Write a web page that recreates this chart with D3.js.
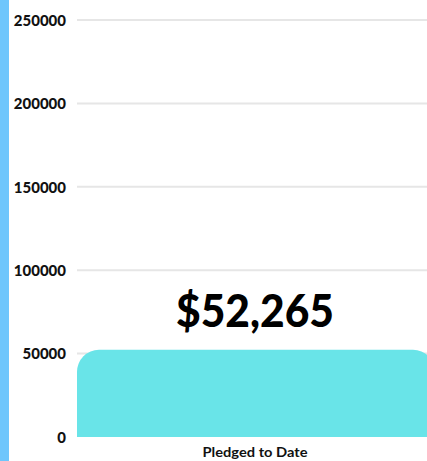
<!DOCTYPE html>
<html><head><meta charset="utf-8">
<script src="https://cdn.jsdelivr.net/npm/d3@7"></script>
<style>html,body{margin:0;padding:0;background:#fff;overflow:hidden}</style>
</head><body>
<svg id="c" width="427" height="461"></svg>
<script>
const categories = ["Pledged to Date"];
const values = [52265];
const valueLabels = ["$52,265"];
const tickValues = [0, 50000, 100000, 150000, 200000, 250000];

(function(){
const svg = d3.select("#c");
const W = 427, H = 461;
const mLeft = 77, mTop = 20, mBottom = 437;

svg.append("rect").attr("x",0).attr("y",0).attr("width",W).attr("height",H).attr("fill","#fff");
svg.append("rect").attr("x",0).attr("y",0).attr("width",9).attr("height",H).attr("fill","#6ec6fc");

const y = d3.scaleLinear().domain([0,250000]).range([mBottom, mTop]);
const x = d3.scaleBand().domain(categories).range([mLeft, 435]).padding(0);

svg.append("g").selectAll("line").data(tickValues.filter(d=>d>0)).join("line")
  .attr("x1", mLeft).attr("x2", W)
  .attr("y1", d=>y(d)).attr("y2", d=>y(d))
  .attr("stroke","#e6e6e6").attr("stroke-width",2);

const yAxis = d3.axisLeft(y).tickValues(tickValues).tickSize(0).tickPadding(0).tickFormat(d3.format("d"));
const ga = svg.append("g").attr("transform","translate(66,0)").call(yAxis);
ga.select(".domain").remove();
ga.selectAll("text").attr("font-family","Lato, sans-serif").attr("font-weight","900")
  .attr("font-size",15).attr("fill","#111").attr("dy","0.35em");

const r = 22;
svg.append("g").selectAll("path").data(values).join("path")
  .attr("d",(d,i)=>{
    const x0 = x(categories[i]), x1 = x0 + x.bandwidth(), y0 = y(d), yb = y(0);
    return `M${x0},${yb} L${x0},${y0+r} A${r},${r} 0 0 1 ${x0+r},${y0} L${x1-r},${y0} A${r},${r} 0 0 1 ${x1},${y0+r} L${x1},${yb} Z`;
  })
  .attr("fill","#69e4e8");

svg.append("g").selectAll("text").data(values).join("text")
  .attr("x",(d,i)=>x(categories[i]) + x.bandwidth()/2 - 1)
  .attr("y",d=>y(d) - 23)
  .attr("text-anchor","middle")
  .attr("font-family","Lato, sans-serif").attr("font-weight","900")
  .attr("font-size",45).attr("fill","#000")
  .attr("textLength",158).attr("lengthAdjust","spacingAndGlyphs")
  .text((d,i)=>valueLabels[i]);

svg.append("g").selectAll("text").data(categories).join("text")
  .attr("x",d=>x(d) + x.bandwidth()/2 - 1)
  .attr("y",457)
  .attr("text-anchor","middle")
  .attr("font-family","Lato, sans-serif").attr("font-weight","700")
  .attr("font-size",13).attr("fill","#111")
  .attr("textLength",105).attr("lengthAdjust","spacingAndGlyphs")
  .text(d=>d);
})();
</script>
</body></html>
